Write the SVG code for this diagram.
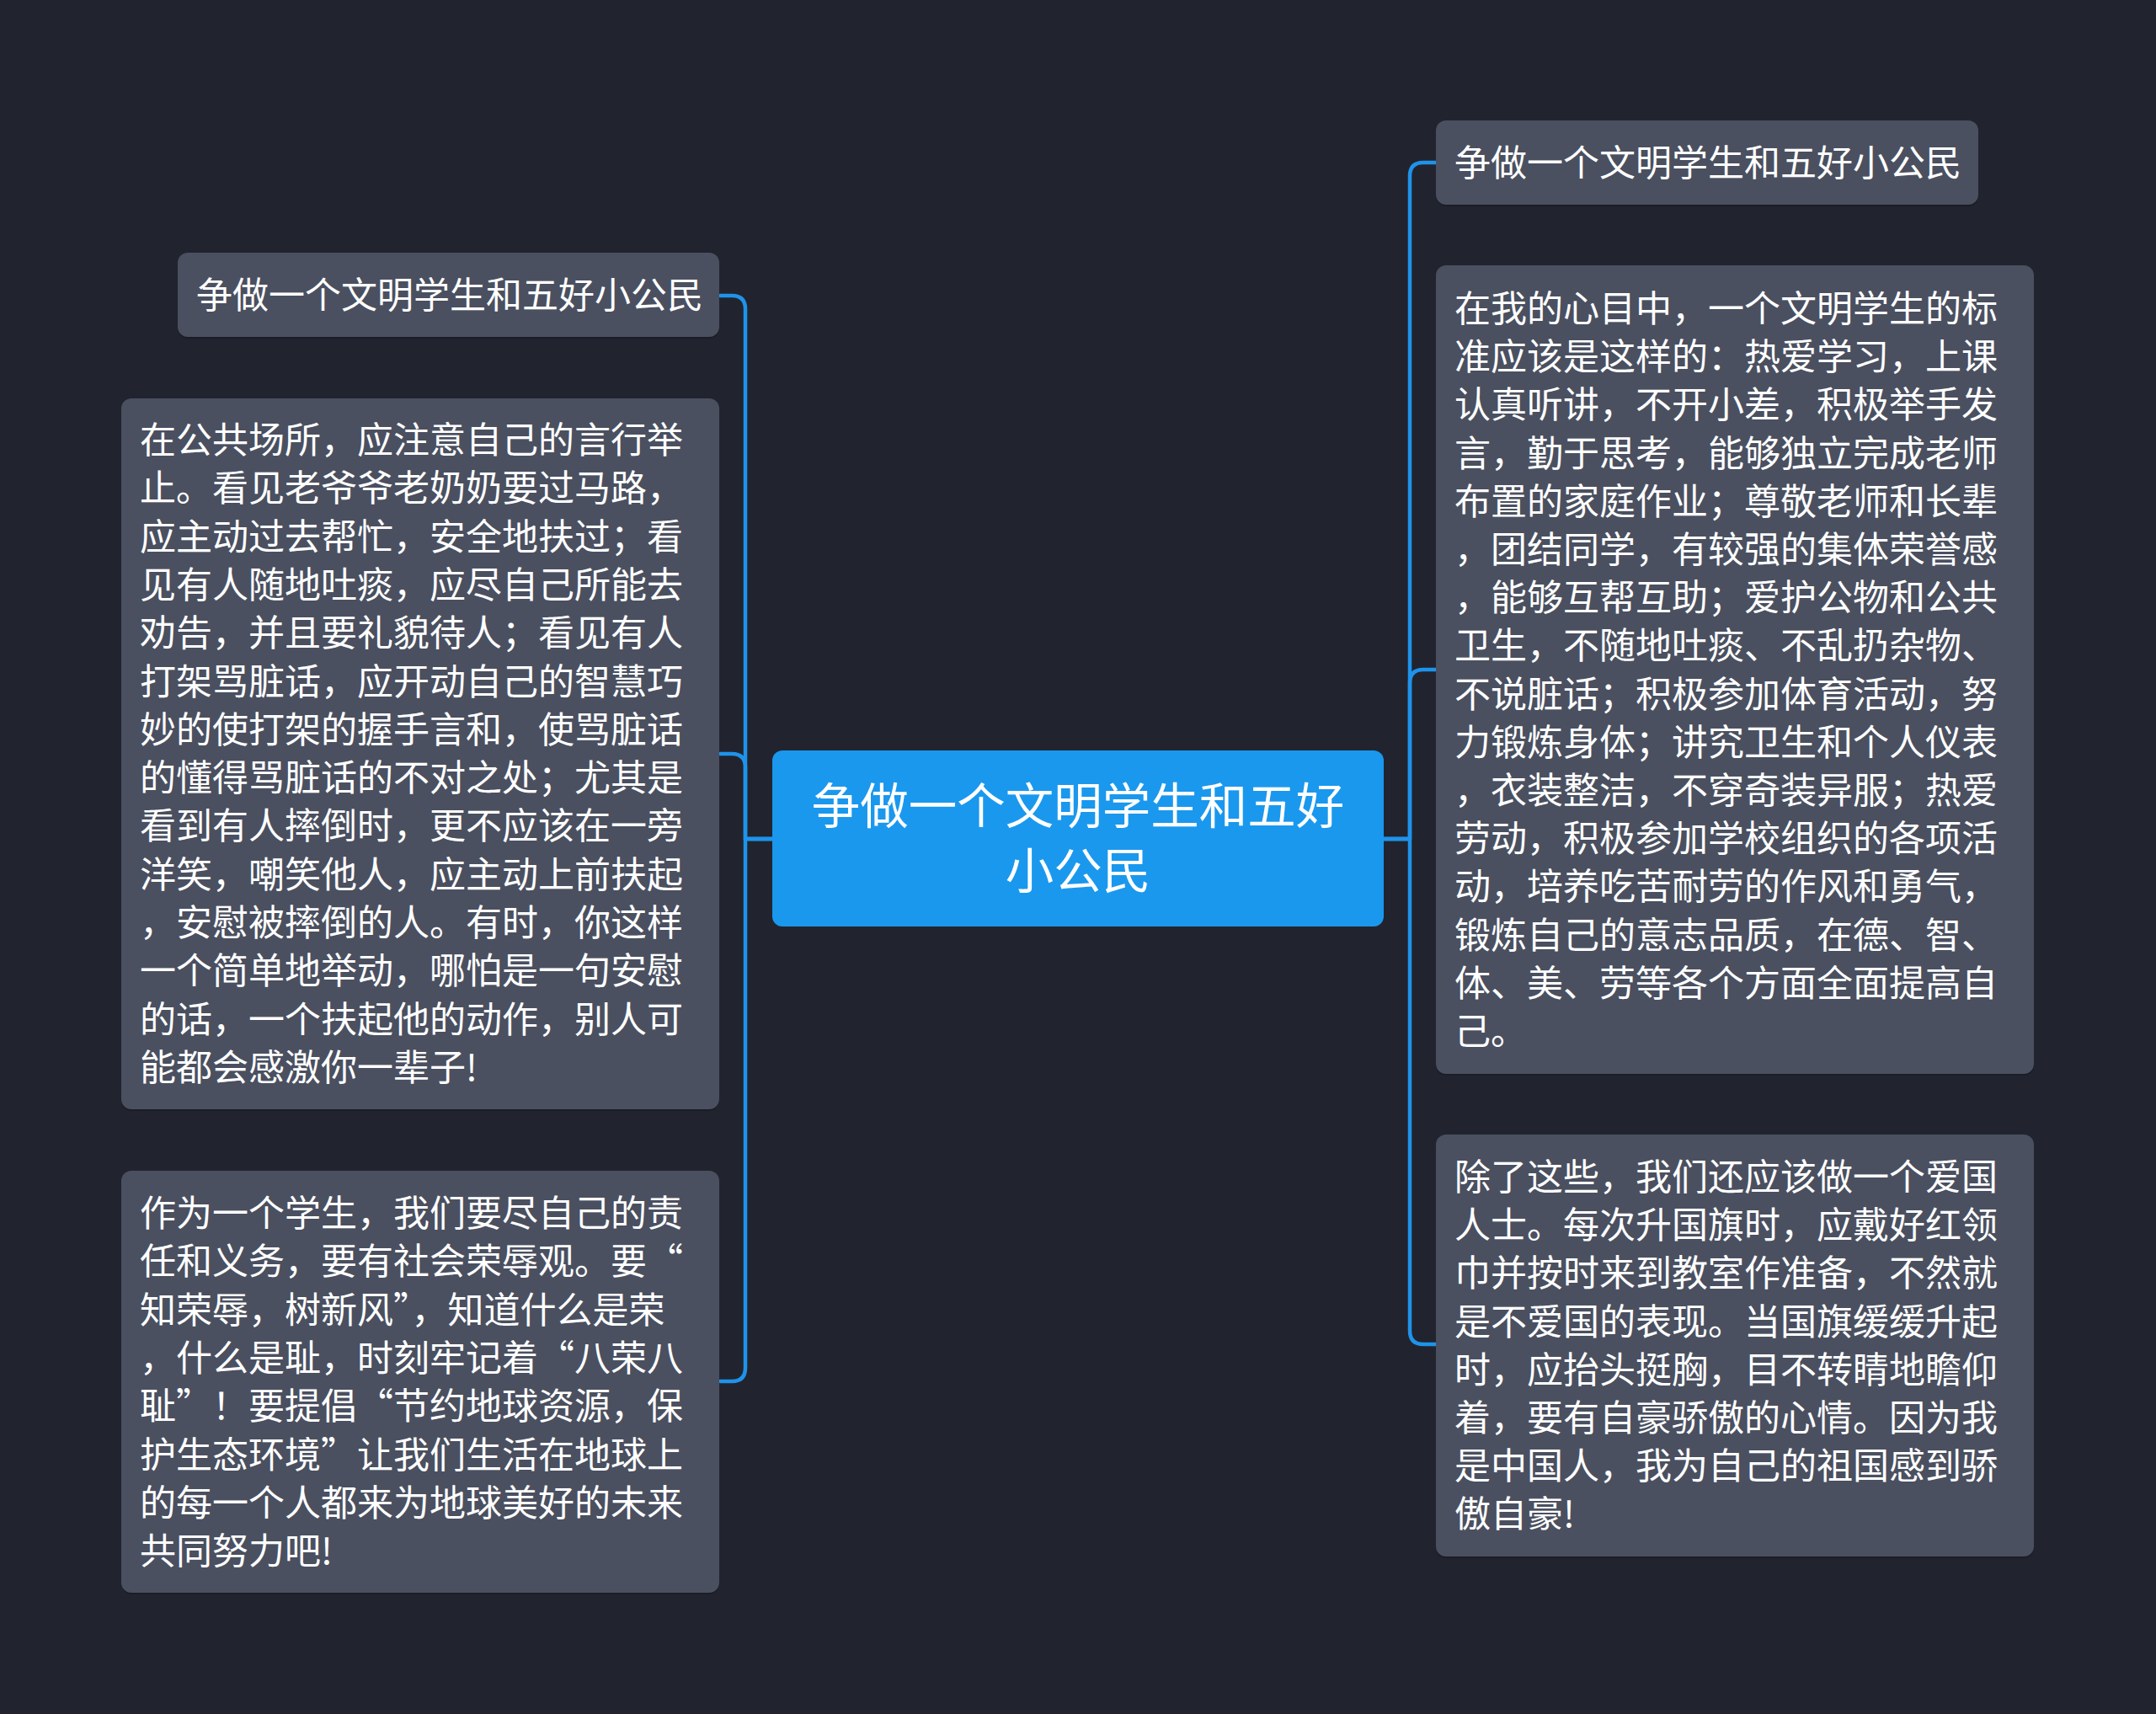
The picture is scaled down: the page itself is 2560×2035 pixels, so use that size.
<svg xmlns="http://www.w3.org/2000/svg" width="2560" height="2035" viewBox="0 0 2560 2035">
<style>
.bg{fill:#21242f}
.box{fill:#4a5060}
.shadow{fill:#1b1d26}
.root{fill:#1a98ee}
.t{font-family:"Noto Sans CJK SC","Noto Sans",sans-serif;font-size:43px;fill:#ffffff}
.rt{font-family:"Noto Sans CJK SC","Noto Sans",sans-serif;font-size:57.5px;fill:#ffffff;text-anchor:middle}
.c{fill:none;stroke:#1f93ea;stroke-width:4.5;stroke-linecap:round;stroke-linejoin:round}
</style>
<rect class="bg" x="0" y="0" width="2560" height="2035"/>
<g id="connectors">
<path class="c" d="M917 996 H885 V367 Q885 351 869 351 H855"/>
<path class="c" d="M917 996 H885 V911 Q885 895 869 895 H855"/>
<path class="c" d="M917 996 H885 V1624 Q885 1640 869 1640 H855"/>
<path class="c" d="M1643 996 H1674 V209 Q1674 193 1690 193 H1705"/>
<path class="c" d="M1643 996 H1674 V811 Q1674 795 1690 795 H1705"/>
<path class="c" d="M1643 996 H1674 V1580 Q1674 1596 1690 1596 H1705"/>
</g>
<g id="root">
<rect class="root" x="917" y="891" width="726" height="209" rx="12"/>
<text class="rt" x="1280" y="978">争做一个文明学生和五好</text>
<text class="rt" x="1280" y="1055">小公民</text>
</g>
<g id="right-top">
<rect class="shadow" x="1705" y="145" width="644" height="100" rx="12"/>
<rect class="box" x="1705" y="143" width="644" height="100" rx="12"/>
<text class="t" x="1727" y="209">争做一个文明学生和五好小公民</text>
</g>
<g id="right-middle">
<rect class="shadow" x="1705" y="317" width="710" height="960" rx="12"/>
<rect class="box" x="1705" y="315" width="710" height="960" rx="12"/>
<text class="t">
<tspan x="1727" y="382">在我的心目中，一个文明学生的标</tspan>
<tspan x="1727" y="439.2">准应该是这样的：热爱学习，上课</tspan>
<tspan x="1727" y="496.4">认真听讲，不开小差，积极举手发</tspan>
<tspan x="1727" y="553.6">言，勤于思考，能够独立完成老师</tspan>
<tspan x="1727" y="610.8">布置的家庭作业；尊敬老师和长辈</tspan>
<tspan x="1727" y="668">，团结同学，有较强的集体荣誉感</tspan>
<tspan x="1727" y="725.2">，能够互帮互助；爱护公物和公共</tspan>
<tspan x="1727" y="782.4">卫生，不随地吐痰、不乱扔杂物、</tspan>
<tspan x="1727" y="839.6">不说脏话；积极参加体育活动，努</tspan>
<tspan x="1727" y="896.8">力锻炼身体；讲究卫生和个人仪表</tspan>
<tspan x="1727" y="954">，衣装整洁，不穿奇装异服；热爱</tspan>
<tspan x="1727" y="1011.2">劳动，积极参加学校组织的各项活</tspan>
<tspan x="1727" y="1068.4">动，培养吃苦耐劳的作风和勇气，</tspan>
<tspan x="1727" y="1125.6">锻炼自己的意志品质，在德、智、</tspan>
<tspan x="1727" y="1182.8">体、美、劳等各个方面全面提高自</tspan>
<tspan x="1727" y="1240">己。</tspan>
</text>
</g>
<g id="right-bottom">
<rect class="shadow" x="1705" y="1349" width="710" height="501" rx="12"/>
<rect class="box" x="1705" y="1347" width="710" height="501" rx="12"/>
<text class="t">
<tspan x="1727" y="1413">除了这些，我们还应该做一个爱国</tspan>
<tspan x="1727" y="1470.2">人士。每次升国旗时，应戴好红领</tspan>
<tspan x="1727" y="1527.4">巾并按时来到教室作准备，不然就</tspan>
<tspan x="1727" y="1584.6">是不爱国的表现。当国旗缓缓升起</tspan>
<tspan x="1727" y="1641.8">时，应抬头挺胸，目不转睛地瞻仰</tspan>
<tspan x="1727" y="1699">着，要有自豪骄傲的心情。因为我</tspan>
<tspan x="1727" y="1756.2">是中国人，我为自己的祖国感到骄</tspan>
<tspan x="1727" y="1813.4">傲自豪!</tspan>
</text>
</g>
<g id="left-top">
<rect class="shadow" x="211" y="302" width="643" height="100" rx="12"/>
<rect class="box" x="211" y="300" width="643" height="100" rx="12"/>
<text class="t" x="233" y="366">争做一个文明学生和五好小公民</text>
</g>
<g id="left-middle">
<rect class="shadow" x="144" y="475" width="710" height="844" rx="12"/>
<rect class="box" x="144" y="473" width="710" height="844" rx="12"/>
<text class="t">
<tspan x="166" y="538">在公共场所，应注意自己的言行举</tspan>
<tspan x="166" y="595.3">止。看见老爷爷老奶奶要过马路，</tspan>
<tspan x="166" y="652.6">应主动过去帮忙，安全地扶过；看</tspan>
<tspan x="166" y="709.9">见有人随地吐痰，应尽自己所能去</tspan>
<tspan x="166" y="767.2">劝告，并且要礼貌待人；看见有人</tspan>
<tspan x="166" y="824.5">打架骂脏话，应开动自己的智慧巧</tspan>
<tspan x="166" y="881.8">妙的使打架的握手言和，使骂脏话</tspan>
<tspan x="166" y="939.1">的懂得骂脏话的不对之处；尤其是</tspan>
<tspan x="166" y="996.4">看到有人摔倒时，更不应该在一旁</tspan>
<tspan x="166" y="1053.7">洋笑，嘲笑他人，应主动上前扶起</tspan>
<tspan x="166" y="1111">，安慰被摔倒的人。有时，你这样</tspan>
<tspan x="166" y="1168.3">一个简单地举动，哪怕是一句安慰</tspan>
<tspan x="166" y="1225.6">的话，一个扶起他的动作，别人可</tspan>
<tspan x="166" y="1282.9">能都会感激你一辈子!</tspan>
</text>
</g>
<g id="left-bottom">
<rect class="shadow" x="144" y="1392" width="710" height="501" rx="12"/>
<rect class="box" x="144" y="1390" width="710" height="501" rx="12"/>
<text class="t">
<tspan x="166" y="1456">作为一个学生，我们要尽自己的责</tspan>
<tspan x="166" y="1513.3">任和义务，要有社会荣辱观。要“</tspan>
<tspan x="166" y="1570.6">知荣辱，树新风”，知道什么是荣</tspan>
<tspan x="166" y="1627.9">，什么是耻，时刻牢记着“八荣八</tspan>
<tspan x="166" y="1685.2">耻”！要提倡“节约地球资源，保</tspan>
<tspan x="166" y="1742.5">护生态环境”让我们生活在地球上</tspan>
<tspan x="166" y="1799.8">的每一个人都来为地球美好的未来</tspan>
<tspan x="166" y="1857.1">共同努力吧!</tspan>
</text>
</g>
</svg>
